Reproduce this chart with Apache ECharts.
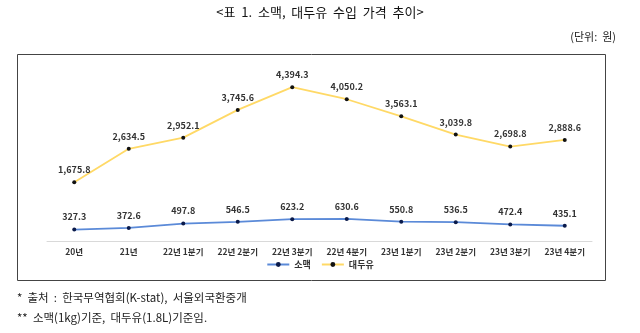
<!DOCTYPE html>
<html><head><meta charset="utf-8">
<script src="https://cdn.jsdelivr.net/npm/echarts@6/dist/echarts.min.js"></script>
<style>html,body{margin:0;padding:0;background:#fff}#c{width:640px;height:333px}</style>
</head><body><div id="c"></div>
<script>
const categories = ['20년','21년','22년 1분기','22년 2분기','22년 3분기','22년 4분기','23년 1분기','23년 2분기','23년 3분기','23년 4분기'];
const wheat = [327.3,372.6,497.8,546.5,623.2,630.6,550.8,536.5,472.4,435.1];
const soyOil = [1675.8,2634.5,2952.1,3745.6,4394.3,4050.2,3563.1,3039.8,2698.8,2888.6];
const seriesNames = ['소맥','대두유'];
const titleText = '<표  1.  소맥,  대두유  수입  가격  추이>';
const unitText = '(단위:  원)';
const note1 = '*  출처  :  한국무역협회(K-stat),  서울외국환중개';
const note2 = '**  소맥(1kg)기준,  대두유(1.8L)기준임.';

const F = '"Noto Sans CJK KR", "Noto Sans", sans-serif';
const fmt = v => v.value.toLocaleString('en-US',{minimumFractionDigits:1,maximumFractionDigits:1});
const chart = echarts.init(document.getElementById('c'));
chart.setOption({
  animation:false,
  textStyle:{fontFamily:F},
  graphic:[
    {type:'rect',shape:{x:17.5,y:54.5,width:588,height:226},style:{fill:'none',stroke:'#444',lineWidth:1},z:-1},
    {type:'text',left:'center',top:6,style:{text:titleText,font:'13px '+F,fill:'#111'}},
    {type:'text',right:24,top:31,style:{text:unitText,font:'11px '+F,fill:'#222'}},
    {type:'text',left:17,top:292,style:{text:note1,font:'11.5px '+F,fill:'#222'}},
    {type:'text',left:17,top:312,style:{text:note2,font:'11.5px '+F,fill:'#222'}}
  ],
  grid:{left:47,right:48,top:66,bottom:92},
  legend:{
    data:seriesNames, bottom:59, left:'center', itemWidth:22, itemHeight:6, itemGap:10,
    textStyle:{fontSize:9,fontWeight:'bold',color:'#333',fontFamily:F}
  },
  xAxis:{
    type:'category', data:categories, boundaryGap:true,
    axisLine:{lineStyle:{color:'#d9d9d9',width:1}}, axisTick:{show:false},
    axisLabel:{fontSize:8.5,fontWeight:'bold',color:'#333',margin:7,interval:0}
  },
  yAxis:{type:'value',min:0,max:5000,show:false,splitLine:{show:false}},
  series:[
    {name:seriesNames[0],type:'line',data:wheat,
     lineStyle:{color:'#5b8ad8',width:1.8},itemStyle:{color:'#0a1a4a'},
     symbol:'circle',symbolSize:4,
     label:{show:true,position:'top',distance:6,formatter:fmt,fontSize:9,fontWeight:'bold',color:'#333'}},
    {name:seriesNames[1],type:'line',data:soyOil,
     lineStyle:{color:'#ffd966',width:1.8},itemStyle:{color:'#111'},
     symbol:'circle',symbolSize:4,
     label:{show:true,position:'top',distance:6,formatter:fmt,fontSize:9,fontWeight:'bold',color:'#333'}}
  ]
});
</script></body></html>
